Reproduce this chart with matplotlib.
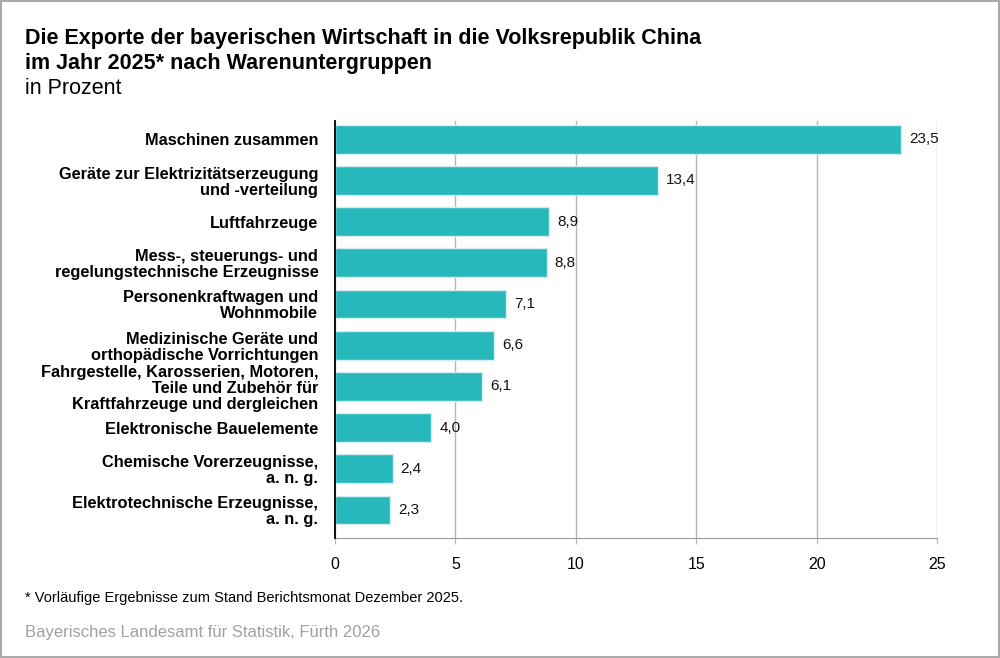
import matplotlib
matplotlib.use("Agg")
import matplotlib.pyplot as plt
from matplotlib.patches import Rectangle

plt.rcParams['font.family'] = ['Liberation Sans', 'DejaVu Sans']

categories = [
    "Maschinen zusammen",
    "Geräte zur Elektrizitätserzeugung\nund -verteilung",
    "Luftfahrzeuge",
    "Mess-, steuerungs- und\nregelungstechnische Erzeugnisse",
    "Personenkraftwagen und\nWohnmobile",
    "Medizinische Geräte und\northopädische Vorrichtungen",
    "Fahrgestelle, Karosserien, Motoren,\nTeile und Zubehör für\nKraftfahrzeuge und dergleichen",
    "Elektronische Bauelemente",
    "Chemische Vorerzeugnisse,\na. n. g.",
    "Elektrotechnische Erzeugnisse,\na. n. g.",
]
values = [23.5, 13.4, 8.9, 8.8, 7.1, 6.6, 6.1, 4.0, 2.4, 2.3]
xticks = [0, 5, 10, 15, 20, 25]

bar_color = '#27b8bc'

fig = plt.figure(figsize=(10, 6.58), dpi=100)
ax = fig.add_axes([0.335, 0.1824, 0.602, 0.6337])

pos = list(range(len(categories)))
ax.barh(pos, values, height=0.7, color=bar_color, edgecolor='#d2eeee', linewidth=1, zorder=3)

for p, v in zip(pos, values):
    ax.text(v + 0.33, p, f"{v:.1f}".replace('.', ','), va='center', ha='left',
            fontsize=11, color='#111111')

ax.set_xlim(0, 25)
ax.set_ylim(len(categories) - 1 + 0.68, -0.44)
ax.set_xticks(xticks)
ax.set_xticklabels([str(t) for t in xticks], fontsize=11.5)
ax.set_yticks(pos)
ax.set_yticklabels(categories, fontsize=11.8, fontweight='bold', linespacing=1.08)

ax.grid(axis='x', color='#b5b5b5', linewidth=1, zorder=0)
for s in ['top', 'right']:
    ax.spines[s].set_visible(False)
ax.spines['left'].set_color('black')
ax.spines['left'].set_linewidth(1.3)
ax.spines['left'].set_zorder(4)
ax.spines['bottom'].set_color('#9a9a9a')
ax.tick_params(axis='y', length=0, pad=12)
ax.tick_params(axis='x', length=4, color='#b5b5b5', pad=10)

fig.text(0.025, 0.941, "Die Exporte der bayerischen Wirtschaft in die Volksrepublik China",
         fontsize=15.5, fontweight='bold', va='center', ha='left')
fig.text(0.025, 0.904, "im Jahr 2025* nach Warenuntergruppen",
         fontsize=15.5, fontweight='bold', va='center', ha='left')
fig.text(0.025, 0.866, "in Prozent", fontsize=15.5, va='center', ha='left')

fig.text(0.025, 0.091, "* Vorläufige Ergebnisse zum Stand Berichtsmonat Dezember 2025.",
         fontsize=10.5, va='center', ha='left')
fig.text(0.025, 0.039, "Bayerisches Landesamt für Statistik, Fürth 2026",
         fontsize=12, color='#a0a0a0', va='center', ha='left')

fig.patches.append(Rectangle((0.001, 0.0015), 0.998, 0.997, transform=fig.transFigure,
                             fill=False, edgecolor='#aaaaaa', linewidth=1.5))

fig.savefig('out.png', dpi=100)
